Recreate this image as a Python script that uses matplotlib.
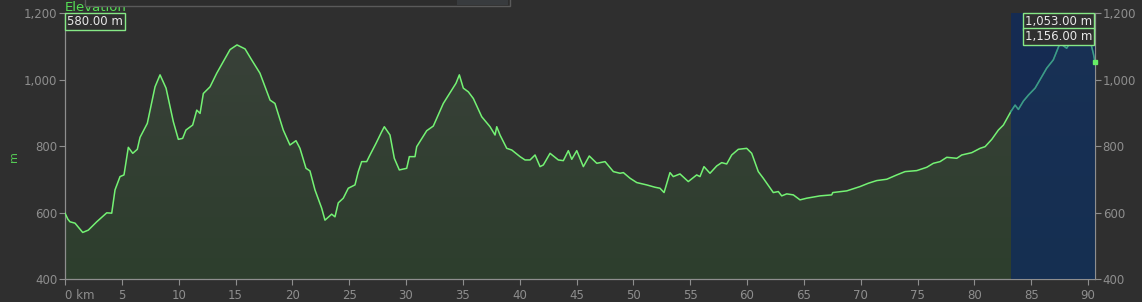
import matplotlib.pyplot as plt
import numpy as np
from matplotlib.colors import LinearSegmentedColormap
from matplotlib.patches import Rectangle

# Elevation profile (km, m)
km = [0.00, 0.25, 0.44, 0.88, 1.56, 2.05, 2.79, 3.67, 4.11, 4.40, 4.84, 5.19, 5.57,
      5.96, 6.36, 6.60, 7.24, 7.92, 8.36, 8.89, 9.53, 9.97, 10.35, 10.64, 11.23,
      11.59, 11.88, 12.17, 12.76, 13.35, 13.93, 14.52, 15.13, 15.84, 16.42, 17.15,
      18.04, 18.47, 18.92, 19.20, 19.79, 20.32, 20.67, 21.20, 21.55, 21.99, 22.58,
      22.87, 23.46, 23.75, 24.04, 24.48, 24.92, 25.51, 25.80, 26.10, 26.54, 26.83,
      27.36, 27.86, 28.09, 28.59, 28.97, 29.41, 30.06, 30.29, 30.79, 30.94, 31.58,
      31.82, 32.40, 33.28, 34.02, 34.40, 34.69, 35.04, 35.48, 35.92, 36.66, 37.39,
      37.83, 37.98, 38.27, 38.86, 39.30, 40.03, 40.47, 40.91, 41.35, 41.79, 42.08,
      42.67, 43.11, 43.40, 43.84, 44.28, 44.58, 45.02, 45.60, 46.12, 46.78, 47.51,
      48.24, 48.83, 49.12, 49.71, 50.30, 51.17, 51.90, 52.34, 52.70, 53.22, 53.51,
      54.10, 54.83, 55.57, 55.86, 56.21, 56.74, 57.33, 57.77, 58.21, 58.65, 59.23,
      59.97, 60.41, 60.99, 61.43, 62.31, 62.75, 63.05, 63.49, 64.07, 64.66, 65.25,
      66.42, 67.45, 67.54, 68.77, 69.94, 70.67, 71.41, 72.29, 73.17, 73.90, 74.93,
      75.81, 76.39, 76.98, 77.57, 78.45, 78.89, 79.77, 80.50, 80.94, 81.53, 82.11,
      82.55, 83.20, 83.58, 83.87, 84.31, 84.75, 85.34, 85.92, 86.36, 86.94, 87.53,
      88.12, 88.56, 88.99, 89.58, 90.02, 90.46, 90.61]
elev = [598, 580, 572, 568, 540, 547, 572, 599, 598, 668, 708, 713, 796,
        778, 790, 826, 868, 978, 1014, 974, 873, 820, 823, 848, 863,
        908, 898, 958, 978, 1019, 1054, 1090, 1104, 1092, 1059, 1019,
        938, 928, 878, 848, 803, 816, 793, 733, 725, 668, 613,
        577, 595, 587, 629, 643, 673, 683, 723, 753, 753, 773,
        808, 843, 858, 833, 763, 728, 733, 768, 768, 798, 833,
        846, 860, 928, 968, 989, 1014, 974, 963, 943, 888, 858,
        833, 858, 833, 793, 788, 768, 758, 758, 773, 738, 743,
        778, 766, 758, 756, 786, 760, 786, 738, 770, 748, 753,
        723, 718, 720, 703, 690, 683, 676, 673, 660, 720, 708,
        716, 693, 713, 708, 738, 718, 740, 750, 746, 773, 790,
        793, 778, 723, 703, 660, 663, 650, 656, 653, 638, 643,
        650, 653, 660, 665, 678, 688, 696, 700, 713, 723, 726,
        736, 748, 753, 766, 763, 773, 780, 793, 798, 820, 848,
        863, 903, 923, 910, 935, 953, 974, 1008, 1034, 1059, 1109,
        1094, 1119, 1114, 1156, 1139, 1079, 1053]

y_ticks = [400, 600, 800, 1000, 1200]
y_labels = ['400', '600', '800', '1,000', '1,200']
x_ticks = [0, 5, 10, 15, 20, 25, 30, 35, 40, 45, 50, 55, 60, 65, 70, 75, 80, 85, 90]
x_labels = ['0 km'] + [str(t) for t in x_ticks[1:]]

selection = (83.2, 90.61)
start_label = '580.00 m'
sel_labels = ['1,053.00 m', '1,156.00 m']

BG = '#2f2f2f'
LINE = '#74f274'
GRAY = '#8e8e8e'

fig = plt.figure(figsize=(11.42, 3.02), dpi=100, facecolor=BG)
ax = fig.add_axes([65 / 1142, 23 / 302, 1030 / 1142, 266 / 302])
ax.set_facecolor(BG)

x = np.array(km)
y = np.array(elev)
xmax = x[-1]

# gradient fill under the profile
poly = ax.fill_between(x, y, 400, color='none', lw=0)
cmap = LinearSegmentedColormap.from_list('fill', ['#2d3e2d', '#3a413a'])
grad = np.linspace(0, 1, 256).reshape(-1, 1)
im = ax.imshow(grad, extent=[0, xmax, 400, 1200], origin='lower', cmap=cmap,
               aspect='auto', zorder=1)
im.set_clip_path(poly.get_paths()[0], transform=ax.transData)

ax.plot(x, y, color=LINE, lw=1.1, zorder=3)

# selected range
ax.axvspan(selection[0], selection[1], color='#0c2a60', alpha=0.72, lw=0, zorder=4)
sel = x >= selection[0] - 0.01
ax.plot(x[sel], y[sel], color='#3c9c88', lw=1.1, zorder=5)
ax.plot(x[-1], y[-1], 's', color='#66ee66', ms=3.5, zorder=6, clip_on=False)
ax.plot(x[np.argmax(y)], y.max(), 'o', color='#a8e8a8', ms=11, alpha=0.35, mec='none', zorder=6)

ax.set_xlim(0, xmax)
ax.set_ylim(400, 1200)
ax.set_xticks(x_ticks)
ax.set_xticklabels(x_labels)
ax.get_xticklabels()[0].set_ha('left')
ax.set_yticks(y_ticks)
ax.set_yticklabels(y_labels)
ax.tick_params(axis='both', colors=GRAY, labelcolor=GRAY, labelsize=8.5, length=4, width=0.8)
ax.tick_params(axis='x', pad=3)
ax.tick_params(axis='y', pad=1.5, right=True, labelright=True)
for side in ['left', 'bottom', 'right']:
    ax.spines[side].set_color(GRAY)
    ax.spines[side].set_linewidth(0.9)
ax.spines['top'].set_visible(False)

box = dict(boxstyle='square,pad=0.15', fc=BG, ec='#86e886', lw=1)
ax.text(0.002, 0.993, start_label, transform=ax.transAxes, ha='left', va='top',
        color='#e8e8e8', fontsize=8.5, bbox=box, zorder=10)
ax.text(0.997, 0.993, sel_labels[0], transform=ax.transAxes, ha='right', va='top',
        color='#e8e8e8', fontsize=8.5, bbox=box, zorder=10)
ax.text(0.997, 0.937, sel_labels[1], transform=ax.transAxes, ha='right', va='top',
        color='#e8e8e8', fontsize=8.5, bbox=box, zorder=10)

# cropped legend strip at the top, drawn over the title text
fig.text(65 / 1142, 291 / 302, 'Elevation', color='#55e055', fontsize=9.5, va='baseline', zorder=1)
fig.patches.append(Rectangle((85 / 1142, 296 / 302), 425 / 1142, 0.05, transform=fig.transFigure,
                             fc='#2d2d2d', ec='#5a5a5a', lw=1, zorder=5))
fig.patches.append(Rectangle((457 / 1142, 297 / 302), 51 / 1142, 0.05, transform=fig.transFigure,
                             fc='#383b3e', ec='none', zorder=6))
fig.text(14 / 1142, 145 / 302, 'm', color='#55cc55', fontsize=8, rotation=90, ha='center', va='center')

fig.savefig('out.png', dpi=100, facecolor=BG)
